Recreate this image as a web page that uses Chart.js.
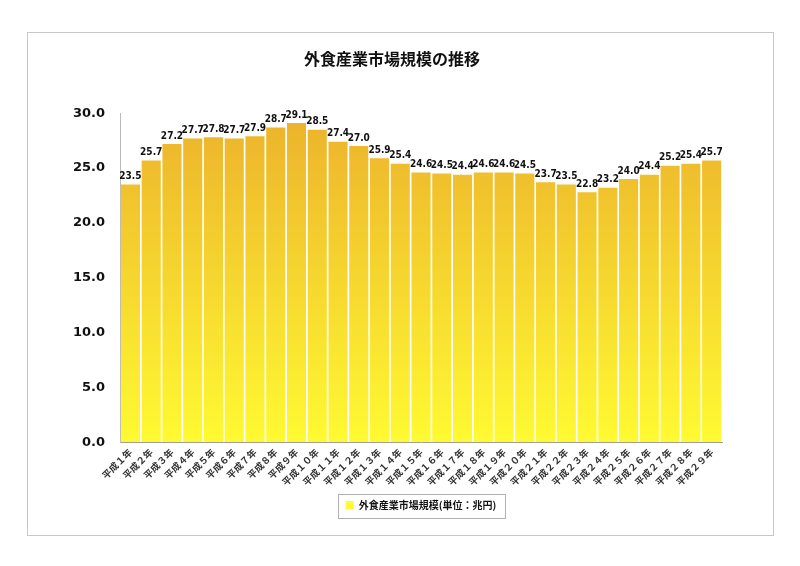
<!DOCTYPE html>
<html>
<head>
<meta charset="utf-8">
<script src="https://cdn.jsdelivr.net/npm/chart.js@4"></script>
<style>
  html, body { margin: 0; padding: 0; background: #fff; }
  #wrap { width: 800px; height: 566px; position: relative; }
</style>
</head>
<body>
<div id="wrap"><canvas id="marketChart" width="800" height="566"></canvas></div>
<script>
// 外食産業市場規模（単位：兆円）
const years = ['平成１年', '平成２年', '平成３年', '平成４年', '平成５年', '平成６年', '平成７年', '平成８年', '平成９年', '平成１０年',
  '平成１１年', '平成１２年', '平成１３年', '平成１４年', '平成１５年', '平成１６年', '平成１７年', '平成１８年', '平成１９年', '平成２０年',
  '平成２１年', '平成２２年', '平成２３年', '平成２４年', '平成２５年', '平成２６年', '平成２７年', '平成２８年', '平成２９年'];
const marketSize = [23.5, 25.7, 27.2, 27.7, 27.8, 27.7, 27.9, 28.7, 29.1, 28.5,
  27.4, 27.0, 25.9, 25.4, 24.6, 24.5, 24.4, 24.6, 24.6, 24.5,
  23.7, 23.5, 22.8, 23.2, 24.0, 24.4, 25.2, 25.4, 25.7];
const seriesName = '外食産業市場規模(単位：兆円)';

const legendFont = { family: '"Noto Sans CJK JP", sans-serif', size: 10, weight: 'bold' };

// outer frame + legend border + value labels
const extras = {
    id: 'extras',
    afterLayout(chart) {
        // center the legend under the plot area, not the whole canvas
        const lg = chart.legend;
        lg.left = chart.chartArea.left;
        lg.right = chart.chartArea.right;
        lg.width = lg.right - lg.left;
        lg.top -= 4;
        lg.bottom -= 4;
    },
    beforeDraw(chart) {
        const ctx = chart.ctx;
        ctx.save();
        ctx.strokeStyle = '#c8c8c8';
        ctx.lineWidth = 1;
        ctx.strokeRect(27.5, 32.5, 746, 503);
        ctx.restore();
    },
    afterDraw(chart) {
        const ctx = chart.ctx;
        const lg = chart.legend;
        ctx.save();
        ctx.font = 'bold 10px ' + legendFont.family;
        const itemW = 8 + 5 + ctx.measureText(seriesName).width;
        const cx = (lg.left + lg.right) / 2;
        const cy = lg.top + 12 + 6;
        const w = Math.round(itemW + 16), h = 24;
        const l = Math.round(cx - w / 2), t = Math.round(cy - h / 2);
        ctx.strokeStyle = '#b0b0b0';
        ctx.lineWidth = 1;
        ctx.strokeRect(l + 0.5, t + 0.5, w, h);
        ctx.restore();

        const meta = chart.getDatasetMeta(0);
        ctx.save();
        ctx.font = 'bold 10px "DejaVu Sans Condensed", "DejaVu Sans", sans-serif';
        ctx.fillStyle = '#111';
        ctx.textAlign = 'center';
        ctx.textBaseline = 'bottom';
        meta.data.forEach((bar, i) => {
            ctx.fillText(marketSize[i].toFixed(1), bar.x, bar.y - 3);
        });
        ctx.restore();
    }
};

const ctx = document.getElementById('marketChart').getContext('2d');
new Chart(ctx, {
    type: 'bar',
    data: {
        labels: years,
        datasets: [{
            label: seriesName,
            data: marketSize,
            backgroundColor: function(c) {
                const area = c.chart.chartArea;
                if (!area) return '#f0c030';
                const g = c.chart.ctx.createLinearGradient(0, area.top, 0, area.bottom);
                g.addColorStop(0, '#ecb22c');
                g.addColorStop(1, '#fffa32');
                return g;
            },
            borderWidth: 0,
            barPercentage: 0.92,
            categoryPercentage: 1.0
        }]
    },
    options: {
        responsive: false,
        animation: false,
        layout: { padding: { top: 40, left: 62, right: 78, bottom: 42 } },
        plugins: {
            title: {
                display: true,
                text: '外食産業市場規模の推移',
                color: '#111',
                font: { family: '"Noto Sans CJK JP", sans-serif', size: 16, weight: 'bold' },
                padding: { top: 9, bottom: 45 }
            },
            legend: {
                position: 'bottom',
                labels: {
                    color: '#111',
                    boxWidth: 8,
                    boxHeight: 8,
                    padding: 12,
                    font: legendFont
                }
            },
            tooltip: { enabled: false }
        },
        scales: {
            x: {
                grid: { display: false, drawTicks: false },
                border: { color: '#999' },
                ticks: {
                    color: '#333',
                    minRotation: 45,
                    maxRotation: 45,
                    autoSkip: false,
                    padding: 4,
                    font: { family: '"Noto Sans CJK JP", sans-serif', size: 9.5, weight: 'bold' }
                }
            },
            y: {
                min: 0,
                max: 30,
                grid: { display: false, drawTicks: true, tickLength: 4 },
                border: { color: '#bbb' },
                ticks: {
                    stepSize: 5,
                    color: '#111',
                    padding: 11,
                    font: { family: '"DejaVu Sans", sans-serif', size: 13, weight: 'bold' },
                    callback: v => Number(v).toFixed(1)
                }
            }
        }
    },
    plugins: [extras]
});
</script>
</body>
</html>
